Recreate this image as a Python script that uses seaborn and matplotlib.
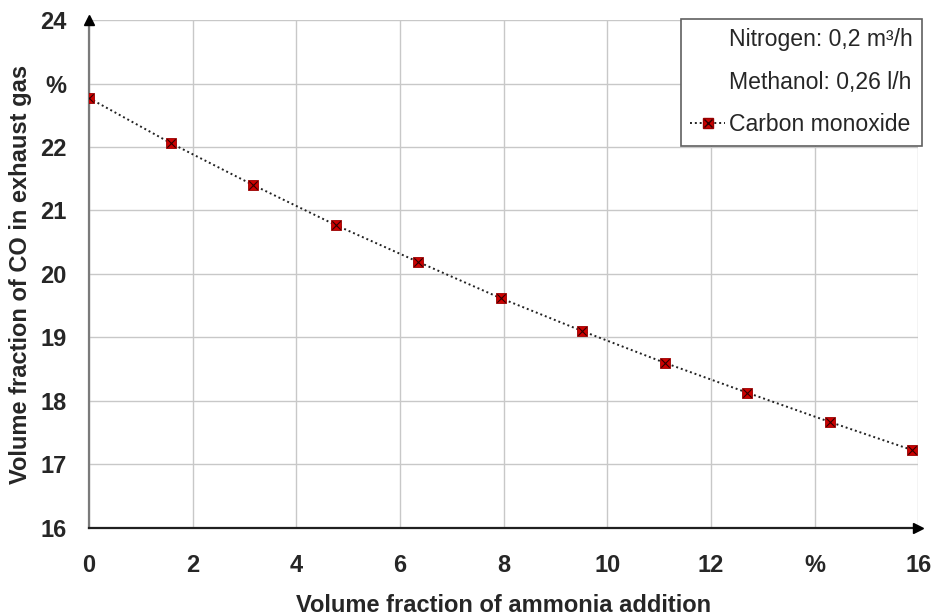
import matplotlib
matplotlib.use('Agg')
import matplotlib.pyplot as plt
import seaborn as sns
import pandas as pd
from matplotlib.lines import Line2D
from matplotlib.legend_handler import HandlerTuple

# ── Data ──────────────────────────────────────────────
ammonia = [0.0, 1.58, 3.17, 4.76, 6.35, 7.94, 9.52, 11.11, 12.7, 14.29, 15.87]
co = [22.77, 22.06, 21.40, 20.77, 20.19, 19.62, 19.10, 18.60, 18.13, 17.67, 17.23]
x_ticks = [0, 2, 4, 6, 8, 10, 12, 14, 16]
x_labels = ['0', '2', '4', '6', '8', '10', '12', '%', '16']
y_ticks = [16, 17, 18, 19, 20, 21, 22, 23, 24]
y_labels = ['16', '17', '18', '19', '20', '21', '22', '%', '24']

df = pd.DataFrame({'ammonia': ammonia, 'co': co})

sns.set_style('white')
plt.rcParams['font.family'] = ['Liberation Sans', 'DejaVu Sans']

fig = plt.figure(figsize=(9.36, 6.16), dpi=100)
ax = fig.add_axes([0.0951, 0.143, 0.886, 0.8245])

sns.lineplot(data=df, x='ammonia', y='co', ax=ax, color='#222222',
             linestyle=(0, (1, 1.5)), lw=1.4, zorder=3)
sns.scatterplot(data=df, x='ammonia', y='co', ax=ax, marker='s', s=56,
                color='#cc0000', edgecolor='#990000', linewidth=0.6, zorder=4)
sns.scatterplot(data=df, x='ammonia', y='co', ax=ax, marker='x', s=36,
                color='#300000', linewidth=0.8, zorder=5)

ax.set_xlim(0, 16)
ax.set_ylim(16, 24)
ax.set_xticks(x_ticks)
ax.set_xticklabels(x_labels)
ax.set_yticks(y_ticks)
ax.set_yticklabels(y_labels)
ax.grid(True, color='#c8c8c8', lw=1)
ax.set_axisbelow(True)

for s in ['top', 'right']:
    ax.spines[s].set_visible(False)
ax.spines['left'].set_color('#7a7a7a')
ax.spines['bottom'].set_color('#202020')
for s in ['left', 'bottom']:
    ax.spines[s].set_linewidth(1.6)
ax.tick_params(axis='y', direction='out', length=8, width=1,
               color='#404040', labelsize=17, pad=8)
ax.tick_params(axis='x', direction='out', length=7, width=1,
               color='#7a7a7a', labelsize=17, pad=12)
for lbl in ax.get_xticklabels() + ax.get_yticklabels():
    lbl.set_fontweight('bold')

# axis arrows
ax.plot(0, 1, marker='^', color='black', ms=7, transform=ax.transAxes,
        clip_on=False, zorder=6)
ax.plot(1, 0, marker='>', color='black', ms=7, transform=ax.transAxes,
        clip_on=False, zorder=6)

ax.set_xlabel('Volume fraction of ammonia addition', fontsize=17,
              fontweight='bold')
ax.set_ylabel('Volume fraction of CO in exhaust gas', fontsize=17,
              fontweight='bold')
ax.xaxis.set_label_coords(0.5, -0.13)
ax.yaxis.set_label_coords(-0.083, 0.5)
ax.yaxis.label.set_verticalalignment('center')

# ── Legend ────────────────────────────────────────────
blank = Line2D([], [], linestyle='none')
h_line = Line2D([], [], color='#222222', linestyle=(0, (1, 1.5)), lw=1.4)
h_sq = Line2D([], [], marker='s', color='#cc0000', markeredgecolor='#990000',
              linestyle='none', ms=7.5)
h_x = Line2D([], [], marker='x', color='#300000', linestyle='none', ms=6)
leg = ax.legend([blank, blank, (h_line, h_sq, h_x)],
                ['Nitrogen: 0,2 m³/h', 'Methanol: 0,26 l/h', 'Carbon monoxide'],
                handler_map={tuple: HandlerTuple(ndivide=1)},
                loc='upper right', bbox_to_anchor=(1.005, 1.002),
                prop={'size': 16.6}, frameon=True, fancybox=False,
                edgecolor='#606060', framealpha=1, borderpad=0.4,
                labelspacing=0.85, handlelength=1.5, handletextpad=0.2,
                borderaxespad=0)
leg.get_frame().set_linewidth(1.2)

fig.savefig('out.png', dpi=100)
